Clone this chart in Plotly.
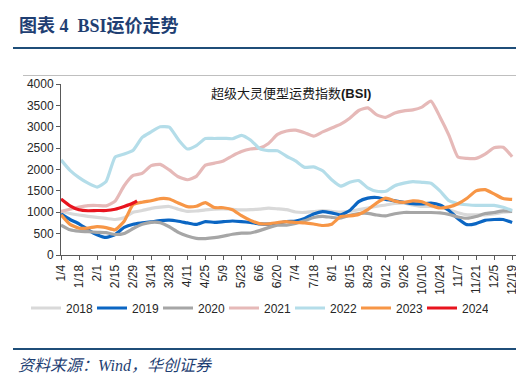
import plotly.graph_objects as go

# ---------------- data ----------------
DAYS = list(range(0, 351, 7))  # day offset from 1/4, weekly samples
TICK_DAYS = list(range(0, 351, 14))
TICK_LABELS = ["1/4", "1/18", "2/1", "2/15", "2/29", "3/14", "3/28", "4/11", "4/25",
               "5/9", "5/23", "6/6", "6/20", "7/4", "7/18", "8/1", "8/15", "8/29",
               "9/12", "9/26", "10/10", "10/24", "11/7", "11/21", "12/5", "12/19"]

Y2018 = [1018, 970, 935, 905, 880, 855, 830, 870, 1000, 1040,
         1090, 1120, 1135, 1070, 1020, 1030, 1055, 1075, 1079, 1070,
         1055, 1060, 1075, 1095, 1080, 1060, 1005, 995, 1015, 1040,
         1020, 1005, 1020, 1060, 1100, 1140, 1170, 1205, 1212, 1170,
         1135, 1135, 1110, 1060, 990, 940, 938, 940, 960, 1000,
         1018]
Y2019 = [960, 830, 730, 590, 475, 410, 480, 645, 721, 750,
         775, 805, 815, 790, 750, 715, 780, 765, 780, 795,
         782, 760, 730, 721, 740, 784, 796, 855, 960, 1015,
         985, 940, 1040, 1250, 1330, 1345, 1300, 1266, 1230, 1200,
         1195, 1212, 1170, 1040, 850, 710, 735, 810, 830, 830,
         760]
Y2020 = [700, 590, 555, 545, 530, 522, 480, 505, 620, 720,
         765, 755, 660, 530, 445, 390, 385, 405, 440, 485,
         511, 515, 570, 640, 695, 700, 738, 800, 877, 905,
         880, 865, 930, 970, 975, 935, 915, 965, 994, 994,
         994, 994, 985, 950, 890, 860, 900, 970, 994, 1030,
         1020]
Y2021 = [1017, 1070, 1120, 1155, 1158, 1150, 1260, 1620, 1860, 1910,
         2090, 2120, 1990, 1830, 1760, 1840, 2100, 2148, 2200, 2320,
         2420, 2480, 2500, 2610, 2820, 2900, 2920, 2860, 2780, 2880,
         2970, 3060, 3200, 3380, 3440, 3278, 3220, 3320, 3370, 3395,
         3460, 3600, 3230, 2800, 2290, 2260, 2260, 2360, 2510, 2520,
         2300]
Y2022 = [2225, 1980, 1810, 1680, 1590, 1720, 2290, 2360, 2450, 2750,
         2880, 3000, 2990, 2700, 2480, 2560, 2725, 2725, 2730, 2720,
         2800, 2690, 2490, 2440, 2440, 2310, 2200, 2050, 2060, 1970,
         1760, 1610, 1700, 1740, 1570, 1490, 1490, 1620, 1680, 1715,
         1700, 1680, 1500, 1270, 1200, 1175, 1160, 1160, 1160, 1115,
         1040]
Y2023 = [938, 715, 627, 630, 665, 640, 590, 790, 1180, 1235,
         1270, 1320, 1310, 1215, 1130, 1140, 1225, 1110, 1105, 1060,
         920, 810, 735, 728, 760, 780, 760, 750, 725, 690,
         720, 901, 915, 950, 1060, 1220, 1329, 1260, 1230, 1265,
         1245, 1160, 1100, 1125, 1200, 1329, 1500, 1530, 1430, 1320,
         1300]
DAYS_2024 = [0, 7, 14, 21, 28, 35, 42, 49, 56, 59]
Y2024 = [1310, 1150, 1058, 1035, 1041, 1041, 1070, 1135, 1215, 1266]

SERIES = [
    ("2018", DAYS, Y2018, "#D9D9D9"),
    ("2019", DAYS, Y2019, "#0B66C3"),
    ("2020", DAYS, Y2020, "#A6A6A6"),
    ("2021", DAYS, Y2021, "#E6B9B8"),
    ("2022", DAYS, Y2022, "#B4DDE9"),
    ("2023", DAYS, Y2023, "#F79646"),
    ("2024", DAYS_2024, Y2024, "#E8141E"),
]

# ---------------- layout helpers ----------------
L, R, T, B = 53, 16, 76, 129
W, H = 524, 376
PW, PH = W - L - R, H - T - B


def px(x):
    return (x - L) / PW


def py(y):
    return (H - B - y) / PH


fig = go.Figure()
for name, xs, ys, color in SERIES:
    fig.add_trace(go.Scatter(x=xs, y=ys, name=name, mode="lines",
                             line=dict(color=color, width=3.2, shape="spline", smoothing=0.5)))

NAVY = "#1F4E79"
fig.update_layout(
    width=W, height=H,
    margin=dict(l=L, r=R, t=T, b=B),
    paper_bgcolor="white", plot_bgcolor="white",
    font=dict(family="Liberation Sans, Noto Sans CJK SC", size=12, color="#262626"),
    showlegend=True,
    legend=dict(orientation="h", x=px(18), y=py(300), xanchor="left", yanchor="middle",
                font=dict(size=12, color="#262626"), entrywidth=21, entrywidthmode="pixels",
                itemwidth=30, bgcolor="rgba(0,0,0,0)"),
    xaxis=dict(range=[0, 353], tickmode="array", tickvals=TICK_DAYS, ticktext=TICK_LABELS,
               tickangle=-90, showline=True, linecolor="#595959", linewidth=1,
               ticks="outside", ticklen=4, tickcolor="#595959", showgrid=False, zeroline=False,
               tickfont=dict(size=12)),
    yaxis=dict(range=[0, 4000], dtick=500, showline=True, linecolor="#595959", linewidth=1,
               ticks="outside", ticklen=4, tickcolor="#595959", showgrid=False, zeroline=False,
               tickfont=dict(size=12)),
    shapes=[
        dict(type="line", xref="paper", yref="paper", x0=px(5), x1=px(520), y0=py(40), y1=py(40),
             line=dict(color=NAVY, width=2)),
        dict(type="line", xref="paper", yref="paper", x0=px(15), x1=px(518), y0=py(67.5), y1=py(67.5),
             line=dict(color="#BFBFBF", width=1)),
        dict(type="line", xref="paper", yref="paper", x0=px(5), x1=px(520), y0=py(341), y1=py(341),
             line=dict(color=NAVY, width=2)),
    ],
    annotations=[
        dict(text="<b>图表 4  BSI运价走势</b>", xref="paper", yref="paper", x=px(9), y=py(18),
             xanchor="left", yanchor="middle", showarrow=False,
             font=dict(family="Liberation Serif, Noto Sans CJK SC", size=18, color="#1F3F73")),
        dict(text="超级大灵便型运费指数<b>(BSI)</b>", xref="paper", yref="paper", x=px(283), y=py(85),
             xanchor="center", yanchor="middle", showarrow=False,
             font=dict(family="Liberation Sans, Noto Sans CJK SC", size=13, color="#1a1a1a")),
        dict(text="<i>资料来源：Wind，华创证券</i>", xref="paper", yref="paper", x=px(8), y=py(357),
             xanchor="left", yanchor="middle", showarrow=False,
             font=dict(family="Liberation Serif, Noto Sans CJK SC", size=16, color="#1F3F73")),
    ],
)

fig.write_html("out.html")
